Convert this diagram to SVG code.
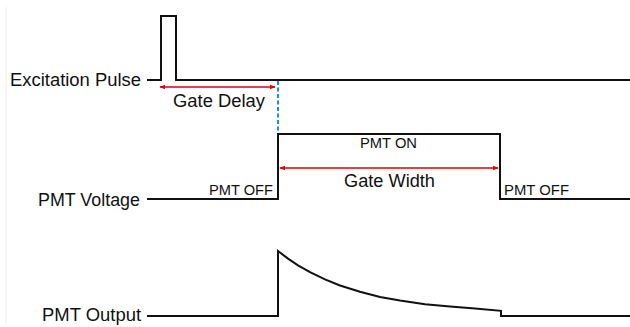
<svg xmlns="http://www.w3.org/2000/svg" width="630" height="327" viewBox="0 0 630 327">
<style>
.sig{fill:none;stroke:#111;stroke-width:2;stroke-linejoin:miter}
.t{font-family:"Liberation Sans",Arial,sans-serif;fill:#111}
.big{font-size:18.3px}
.sm{font-size:14.5px}
.red{stroke:#e00000;stroke-width:1.5;fill:none}
</style>
<defs>
<marker id="ah" viewBox="0 0 10 10" refX="9" refY="5" markerWidth="6" markerHeight="6" orient="auto-start-reverse" markerUnits="userSpaceOnUse">
<path d="M0,1 L10,5 L0,9 Z" fill="#e00000"/>
</marker>
</defs>
<rect width="630" height="327" fill="#fff"/>
<line x1="6" y1="7" x2="6" y2="325" stroke="#eeeeee" stroke-width="1"/>
<g id="excitation">
<path class="sig" d="M147,80 H161 V16 H176 V80 H630"/>
<text class="t big" x="10" y="86" textLength="131" lengthAdjust="spacingAndGlyphs">Excitation Pulse</text>
</g>
<g id="voltage">
<path class="sig" d="M147,199 H278 V134 H500 V199 H630"/>
<text class="t big" x="38" y="205.5" textLength="102" lengthAdjust="spacingAndGlyphs">PMT Voltage</text>
<text class="t sm" x="360" y="148" textLength="57" lengthAdjust="spacingAndGlyphs">PMT ON</text>
<text class="t sm" x="209" y="195" textLength="64" lengthAdjust="spacingAndGlyphs">PMT OFF</text>
<text class="t sm" x="504" y="195" textLength="65" lengthAdjust="spacingAndGlyphs">PMT OFF</text>
</g>
<g id="output">
<path class="sig" d="M147,316 H278 V251 L288,258.6 L298,265.3 L310,272.1 L325,279.3 L340,285.5 L360,291.8 L380,296.9 L400,300.6 L425,304.2 L450,306.6 L475,308.5 L501,310.8 V316 H630"/>
<text class="t big" x="42" y="321" textLength="99" lengthAdjust="spacingAndGlyphs">PMT Output</text>
</g>
<g id="connectors">
<line x1="278" y1="81" x2="278" y2="133" stroke="#1e88ff" stroke-width="2" stroke-dasharray="4,2.5"/>
<line class="red" x1="160" y1="87" x2="275" y2="87" marker-start="url(#ah)" marker-end="url(#ah)"/>
<line class="red" x1="280" y1="168" x2="498" y2="168" marker-start="url(#ah)" marker-end="url(#ah)"/>
</g>
<g id="labels">
<text class="t big" x="173" y="106.5" textLength="92" lengthAdjust="spacingAndGlyphs">Gate Delay</text>
<text class="t big" x="344" y="187.3" textLength="91" lengthAdjust="spacingAndGlyphs">Gate Width</text>
</g>
</svg>
